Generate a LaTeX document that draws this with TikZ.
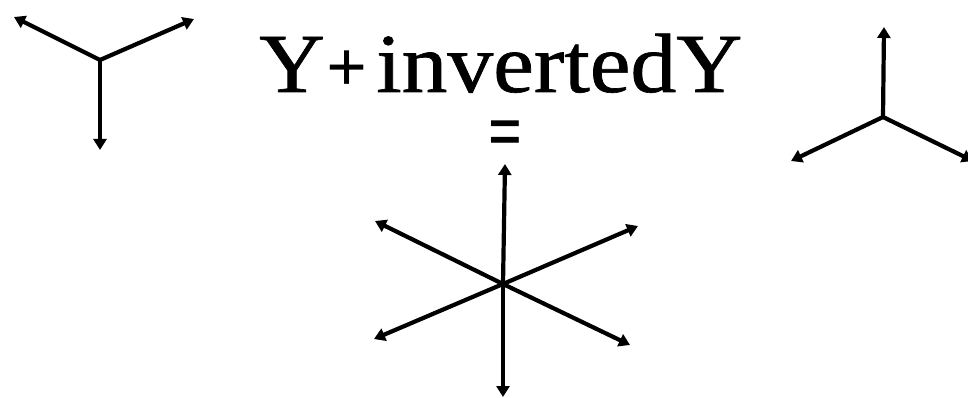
\documentclass[tikz,border=0pt]{standalone}
\usepackage{fontspec}
\setmainfont{Liberation Serif}
\newfontfamily\heavyserif[FakeBold=0.8]{Liberation Serif}
\usetikzlibrary{arrows.meta}
\begin{document}
\begin{tikzpicture}[x=1pt,y=-1pt,
  arm/.style={line width=4.2pt,-{Triangle[length=11pt,width=13pt]}},
  big/.style={inner sep=0pt,font=\heavyserif\fontsize{84}{84}\selectfont}]
\useasboundingbox (0,0) rectangle (968,398);
% left Y
\coordinate (yc) at (100,60);
\coordinate (y1) at (14,17);
\coordinate (y2) at (194,19);
\coordinate (y3) at (100,150);
\draw[arm] (yc) -- (y1);
\draw[arm] (yc) -- (y2);
\draw[arm] (yc) -- (y3);
% right inverted Y
\coordinate (ic) at (883,117);
\coordinate (i1) at (884,27);
\coordinate (i2) at (791,161);
\coordinate (i3) at (973,161);
\draw[arm] (ic) -- (i1);
\draw[arm] (ic) -- (i2);
\draw[arm] (ic) -- (i3);
% star
\coordinate (sc) at (503,284);
\coordinate (s1) at (505,164);
\coordinate (s2) at (638,226);
\coordinate (s3) at (630,345);
\coordinate (s4) at (503,397);
\coordinate (s5) at (374,339);
\coordinate (s6) at (375,221);
\foreach \t in {s1,s2,s3,s4,s5,s6} \draw[arm] (sc) -- (\t);
% text
\node[big,anchor=base west,xscale=1.08] (ty) at (259,92) {Y};
\node[inner sep=0pt,font=\fontsize{72}{72}\selectfont\bfseries] (plus) at (347,71) {+};
\node[big,anchor=base west,xscale=1.09] (tinv) at (376,92) {invertedY};
\node[inner sep=0pt,xscale=1.3,yscale=1.8,font=\fontsize{46}{46}\selectfont\bfseries] (eq) at (506,140) {=};
\end{tikzpicture}
\end{document}
